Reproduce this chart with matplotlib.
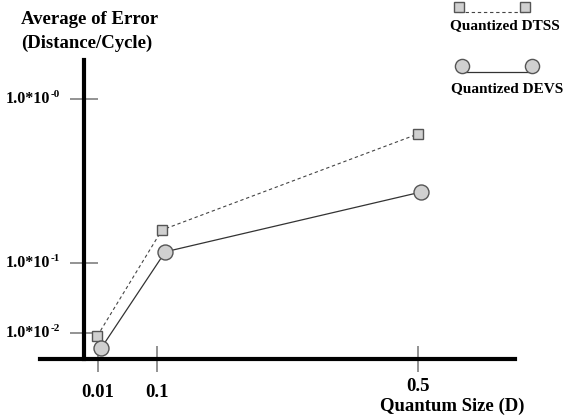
import numpy as np
import matplotlib
matplotlib.use("Agg")
import matplotlib.pyplot as plt
from matplotlib.lines import Line2D
from matplotlib.transforms import blended_transform_factory

plt.rcParams['font.family'] = ['Liberation Serif', 'DejaVu Serif']
plt.rcParams['font.weight'] = 'bold'

# data
dtss_x = [0.009, 0.108, 0.5]
dtss_y = [0.0091, 0.159, 0.612]
devs_x = [0.015, 0.113, 0.505]
devs_y = [0.0061, 0.117, 0.271]

x_ticks = [0.01, 0.1, 0.5]
x_tick_labels = ['0.01', '0.1', '0.5']
y_ticks = [0.01, 0.1, 1.0]
y_tick_base = '1.0*10'
y_tick_exps = ['-2', '-1', '-0']

# the original axis is not an even log scale: decades are spaced unevenly
LOGS = [-3, -2, -1, 0, 1]
POS = [-403, -333, -263, -99, 65]


def forward(v):
    v = np.clip(np.asarray(v, dtype=float), 1e-6, None)
    return np.interp(np.log10(v), LOGS, POS)


def inverse(p):
    return 10 ** np.interp(p, POS, LOGS)


W, H = 566, 419


def px(x, y):
    return x / W, 1 - y / H


fig = plt.figure(figsize=(W / 100, H / 100), dpi=100)
ax = fig.add_axes([40 / W, 1 - 359 / H, 475 / W, 299 / H])
ax.set_yscale('function', functions=(forward, inverse))
ax.set_xlim(-0.0788, 0.6486)
ax.set_ylim(inverse(-359), inverse(-60))

for s in ['top', 'right']:
    ax.spines[s].set_visible(False)
ax.spines['left'].set_position(('data', -0.0114))
ax.spines['left'].set_linewidth(3)
ax.spines['bottom'].set_linewidth(3)

ax.plot(dtss_x, dtss_y, ls=(0, (3, 2.5)), lw=0.8, color='#444444',
        marker='s', ms=7.2, mfc='#d0d0d0', mec='#555555', mew=1)
ax.plot(devs_x, devs_y, ls='-', lw=0.9, color='#333333',
        marker='o', ms=10.8, mfc='#d0d0d0', mec='#555555', mew=1)

ax.set_xticks(x_ticks)
ax.set_xticklabels(x_tick_labels)
ax.set_yticks(y_ticks)
ax.set_yticklabels([''] * len(y_ticks))
ax.minorticks_off()
ax.tick_params(axis='y', direction='inout', length=19.5, width=1.2, color='#808080')
ax.tick_params(axis='x', direction='inout', length=19, width=1.2,
               color='#808080', labelsize=13.5, pad=8.5)
# the 0.5 label sits a little higher, just above the axis title
ax.xaxis.get_major_ticks()[2].set_pad(4.5)

# y tick labels with a small raised exponent (plain hyphen, as in the original)
bt = blended_transform_factory(fig.transFigure, ax.transData)
for yv, ex in zip(y_ticks, y_tick_exps):
    ax.text(50 / W, yv, y_tick_base, transform=bt, ha='right', va='center',
            fontsize=11.5, fontweight='bold')
    ax.annotate(ex, xy=(50.5 / W, yv), xycoords=bt, xytext=(0, 3.5),
                textcoords='offset points', ha='left', va='center',
                fontsize=8, fontweight='bold')

fig.text(*px(21, 19), 'Average of Error', ha='left', va='center', fontsize=13.5, fontweight='bold')
fig.text(*px(21, 43), '(Distance/Cycle)', ha='left', va='center', fontsize=13.5, fontweight='bold')
fig.text(*px(452, 406), 'Quantum Size (D)', ha='center', va='center', fontsize=13.5, fontweight='bold')

# hand-made legend
tf = fig.transFigure
x0, y0 = px(459, 12)
x1, y1 = px(525, 12)
fig.add_artist(Line2D([x0, x1], [y0, y1], transform=tf, ls=(0, (3, 2.5)), lw=0.8, color='#444444'))
for xx in (459, 525):
    fig.add_artist(Line2D([px(xx, 7)[0]], [px(xx, 7)[1]], transform=tf, ls='none',
                          marker='s', ms=7.2, mfc='#d0d0d0', mec='#555555', mew=1))
fig.text(*px(505, 26), 'Quantized DTSS', ha='center', va='center', fontsize=11, fontweight='bold')

x0, y0 = px(462, 72)
x1, y1 = px(532, 72)
fig.add_artist(Line2D([x0, x1], [y0, y1], transform=tf, ls='-', lw=0.9, color='#333333'))
for xx in (462, 532):
    fig.add_artist(Line2D([px(xx, 66)[0]], [px(xx, 66)[1]], transform=tf, ls='none',
                          marker='o', ms=10.2, mfc='#d0d0d0', mec='#555555', mew=1))
fig.text(*px(507, 89), 'Quantized DEVS', ha='center', va='center', fontsize=11, fontweight='bold')

fig.savefig('out.png', dpi=100)
